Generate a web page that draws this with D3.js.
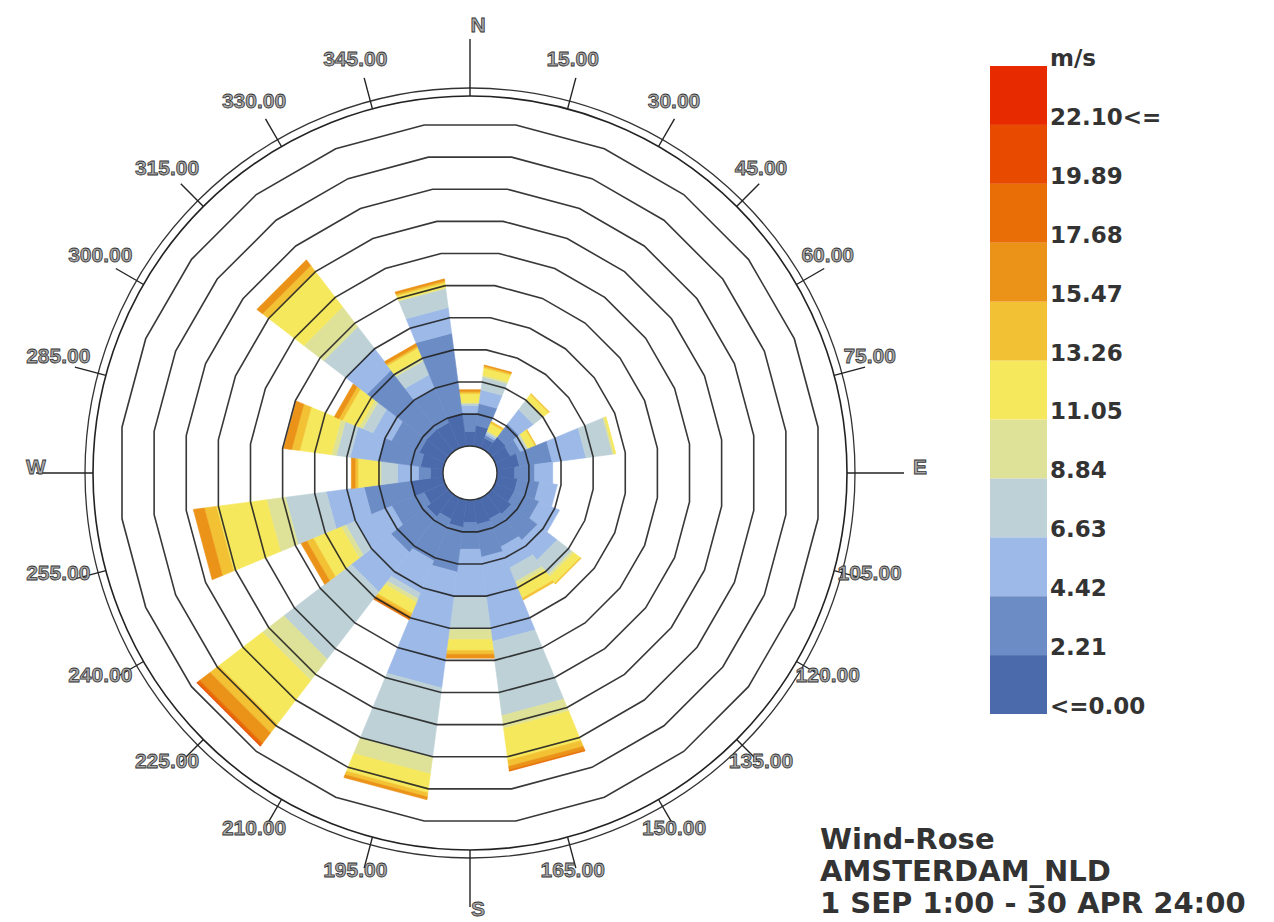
<!DOCTYPE html>
<html>
<head>
<meta charset="utf-8">
<script src="https://cdn.jsdelivr.net/npm/d3@7"></script>
<style>
body { margin: 0; background: #fff; }
svg { display: block; }
</style>
</head>
<body>
<script>
var width = 1274, height = 922;
var cx = 470, cy = 473;

// wind directions, degrees clockwise from north
var dirs = [0, 15, 30, 45, 60, 75, 90, 105, 120, 135, 150, 165, 180, 195, 210, 225, 240, 255, 270, 285, 300, 315, 330, 345];

// frequency (% of hours) of each speed bin, one value per direction
var bin0  = [0.46,0.65,0.34,0.56,0.52,0.71,0.56,0.65,0.65,0.77,0.71,0.77,0.71,0.86,0.71,0.86,0.71,1.02,0.40,0.71,0.86,0.86,0.86,1.02];
var bin1  = [0.56,0.68,0.09,0.52,0.34,1.02,0.62,0.68,0.83,1.02,0.93,1.02,0.83,1.39,1.39,1.39,1.08,1.45,0.37,1.33,0.93,2.31,1.14,2.50];
var bin2  = [0.25,0.43,0.06,0.56,0.15,1.05,0.56,0.56,0.68,0.77,0.71,2.62,1.48,3.61,1.08,1.54,1.23,1.17,0.65,0.86,0.62,0.86,0.46,0.80];
var bin3  = [0.06,0.40,0.06,0.34,0.09,0.83,0,0,0,0.56,0.46,2.31,1.02,2.16,0.19,2.62,0.31,1.27,0.52,0.43,0.34,0.83,0.46,0.59];
var bin4  = [0.03,0.06,0.03,0.06,0.03,0.05,0,0,0,0.09,0.12,0.40,0.31,0.52,0.12,0.83,0.15,0.59,0.06,0.15,0.12,0.77,0.12,0.03];
var bin5  = [0.28,0.22,0.25,0.19,0.22,0.05,0,0,0,0.25,0.43,0.99,0.34,0.59,0.37,1.70,0.93,1.57,0.65,0.99,0.56,1.39,0.31,0.15];
var bin6  = [0.06,0.06,0.06,0.03,0.03,0,0,0,0,0.03,0.06,0.19,0.12,0.12,0.09,0.34,0.22,0.37,0.09,0.25,0.12,0.22,0.06,0.06];
var bin7  = [0.06,0.03,0,0,0,0,0,0,0,0,0,0.12,0.12,0.09,0.09,0.40,0.19,0.34,0.12,0.25,0.15,0.22,0.09,0.06];
var bin8  = [0,0,0,0,0,0,0,0,0,0,0,0.03,0,0,0.03,0.09,0,0,0,0,0,0,0,0];
var bin9  = [0,0,0,0,0,0,0,0,0,0,0,0,0,0,0,0.03,0,0,0,0,0,0,0,0];
var bin10 = [0,0,0,0,0,0,0,0,0,0,0,0,0,0,0,0,0,0,0,0,0,0,0,0];
var bins = [bin0, bin1, bin2, bin3, bin4, bin5, bin6, bin7, bin8, bin9, bin10];

var binColors = ["#4a6aab", "#6b8cc4", "#9cb9e8", "#bdd1d6", "#dee298", "#f6e85c",
                 "#f3c234", "#eb9218", "#e86e05", "#e84a00", "#e82a00"];
var legendLabels = ["<=0.00", "2.21", "4.42", "6.63", "8.84", "11.05", "13.26", "15.47", "17.68", "19.89", "22.10<="];
var legendUnit = "m/s";
var ringTicks = [0, 1, 2, 3, 4, 5, 6, 7, 8, 9, 10];
var compassDirs = [0, 15, 30, 45, 60, 75, 90, 105, 120, 135, 150, 165, 180, 195, 210, 225, 240, 255, 270, 285, 300, 315, 330, 345];
var cardinals = {0: "N", 90: "E", 180: "S", 270: "W"};
var titleLines = ["Wind-Rose", "AMSTERDAM_NLD", "1 SEP 1:00 - 30 APR 24:00"];

var svg = d3.select("body").append("svg")
    .attr("width", width)
    .attr("height", height);

var r = d3.scaleLinear().domain([0, 10]).range([27, 351]);
var half = 7.5;

function pt(deg, rad) {
    var a = deg * Math.PI / 180;
    return [cx + rad * Math.sin(a), cy - rad * Math.cos(a)];
}

// petals
var petalg = svg.append("g");
dirs.forEach(function(d, i) {
    var acc = 0;
    bins.forEach(function(b, j) {
	var v = b[i];
	if (!v) { return; }
	var r0 = r(acc), r1 = r(acc + v);
	acc += v;
	var pts = [pt(d - half, r0), pt(d - half, r1), pt(d + half, r1), pt(d + half, r0)];
	petalg.append("polygon")
	    .attr("points", pts.map(function(p) { return p.join(","); }).join(" "))
	    .attr("fill", binColors[j])
	    .attr("stroke", binColors[j])
	    .attr("stroke-width", 0.6);
    });
});

// frequency rings (24-gons)
var ringg = svg.append("g");
ringTicks.slice(1).forEach(function(t) {
    var pts = dirs.map(function(d) { return pt(d + half, r(t)); });
    ringg.append("polygon")
	.attr("points", pts.map(function(p) { return p.join(","); }).join(" "))
	.attr("fill", "none")
	.attr("stroke", "#222")
	.attr("stroke-width", 1.6)
	.attr("stroke-opacity", 0.9);
});
ringg.append("circle")
    .attr("cx", cx).attr("cy", cy).attr("r", r(0))
    .attr("fill", "#fff")
    .attr("stroke", "#333")
    .attr("stroke-width", 1.4);

// compass
var compg = svg.append("g");
compg.append("circle").attr("cx", cx).attr("cy", cy).attr("r", 377)
    .attr("fill", "none").attr("stroke", "#222").attr("stroke-width", 1.6);
compg.append("circle").attr("cx", cx).attr("cy", cy).attr("r", 385)
    .attr("fill", "none").attr("stroke", "#333").attr("stroke-width", 1.3);

compassDirs.forEach(function(d) {
    var card = cardinals[d];
    var p0 = pt(d, 377), p1 = pt(d, card ? 434 : 409);
    compg.append("line")
	.attr("x1", p0[0]).attr("y1", p0[1])
	.attr("x2", p1[0]).attr("y2", p1[1])
	.attr("stroke", "#222").attr("stroke-width", 1.4);
    var lp = card ? pt(d, 442) : pt(d, 420);
    compg.append("text")
	.attr("x", lp[0] + (card ? 8 : -6))
	.attr("y", lp[1] + (card ? -7 : -9))
	.attr("text-anchor", "middle")
	.attr("dominant-baseline", "central")
	.attr("font-family", "Liberation Sans, Arial, sans-serif")
	.attr("font-weight", "bold")
	.attr("font-size", 21)
	.attr("fill", "#a8a8a8")
	.attr("stroke", "#333")
	.attr("stroke-width", 0.8)
	.text(card ? card : d.toFixed(2));
});

// legend
var legx = 990, legw = 57;
var ly = d3.scaleLinear().domain([0, 11]).range([714, 66]);
var legg = svg.append("g");
binColors.forEach(function(c, j) {
    legg.append("rect")
	.attr("x", legx).attr("y", ly(j + 1))
	.attr("width", legw).attr("height", ly(j) - ly(j + 1))
	.attr("fill", c);
});
var labs = legendLabels.concat([legendUnit]);
labs.forEach(function(t, j) {
    legg.append("text")
	.attr("x", legx + legw + 3)
	.attr("y", ly(j))
	.attr("font-family", "DejaVu Sans, Verdana, sans-serif")
	.attr("font-weight", "bold")
	.attr("font-size", 23)
	.attr("fill", "#333")
	.text(t);
});

// title
var titleg = svg.append("g");
titleLines.forEach(function(t, i) {
    titleg.append("text")
	.attr("x", 820)
	.attr("y", 849 + i * 32)
	.attr("font-family", "DejaVu Sans, Verdana, sans-serif")
	.attr("font-weight", "bold")
	.attr("font-size", 29)
	.attr("fill", "#333")
	.text(t);
});
</script>
</body>
</html>
